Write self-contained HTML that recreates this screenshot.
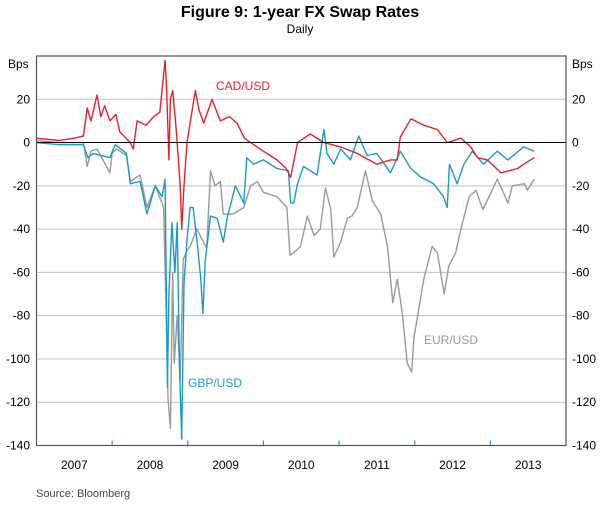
<!DOCTYPE html>
<html><head><meta charset="utf-8"><style>
body{margin:0;background:#fff;width:600px;height:503px;overflow:hidden;font-family:"Liberation Sans",Arial,sans-serif}
</style></head><body>
<svg id="c" width="600" height="503" xmlns="http://www.w3.org/2000/svg" font-family="Liberation Sans, Arial, sans-serif"></svg>
<script>
const yTicks=[20,0,-20,-40,-60,-80,-100,-120,-140];
const years=[2007,2008,2009,2010,2011,2012,2013];
const cadT=[2007.0,2007.3,2007.5,2007.62,2007.67,2007.72,2007.8,2007.85,2007.9,2007.97,2008.05,2008.1,2008.24,2008.28,2008.33,2008.45,2008.55,2008.63,2008.70,2008.72,2008.75,2008.77,2008.80,2008.85,2008.90,2008.92,2008.95,2008.99,2009.10,2009.15,2009.21,2009.32,2009.43,2009.55,2009.65,2009.75,2009.83,2010.0,2010.18,2010.30,2010.36,2010.45,2010.62,2010.80,2011.02,2011.24,2011.5,2011.68,2011.77,2011.81,2011.95,2012.12,2012.30,2012.43,2012.61,2012.74,2012.83,2012.96,2013.14,2013.36,2013.44,2013.58];
const cadV=[2,1,2,3,16,10,22,12,17,10,13,5,0,-3,10,8,12,14,38,25,-8,20,24,5,-20,-40,-20,0,24,15,9,20,10,12,9,2,0,-4,-8,-12,-16,0,4,0,-2,-5,-10,-8,-8,2.5,11,8,6,0,2,-2,-7,-8,-14,-12,-10,-7];
const gbpT=[2007.0,2007.3,2007.62,2007.68,2007.75,2007.97,2008.04,2008.19,2008.24,2008.37,2008.46,2008.57,2008.66,2008.70,2008.73,2008.75,2008.79,2008.83,2008.86,2008.89,2008.92,2008.95,2008.99,2009.03,2009.07,2009.12,2009.17,2009.20,2009.23,2009.30,2009.39,2009.47,2009.52,2009.63,2009.74,2009.78,2009.87,2010.0,2010.18,2010.33,2010.36,2010.40,2010.45,2010.53,2010.71,2010.80,2010.84,2010.93,2011.02,2011.15,2011.26,2011.37,2011.5,2011.68,2011.81,2011.95,2012.08,2012.25,2012.38,2012.43,2012.46,2012.56,2012.65,2012.76,2012.91,2013.09,2013.23,2013.44,2013.58];
const gbpV=[0,-1,-1,-7,-5,-7,-1,-5,-19,-18,-33,-20,-25,-17,-113,-70,-37,-60,-37,-104,-137,-65,-45,-30,-30,-45,-62,-79,-55,-34,-35,-46,-35,-20,-28,-7,-10,-8,-12,-13,-28,-28,-19,-11,-15,6,-5,-10,-3,-8,3,-6,-5,-14,-4,-12,-16,-19,-25,-30,-10,-19,-10,-4,-10,-4,-8,-2,-4];
const eurT=[2007.0,2007.3,2007.62,2007.67,2007.72,2007.8,2007.97,2008.0,2008.06,2008.19,2008.24,2008.37,2008.46,2008.57,2008.68,2008.71,2008.74,2008.77,2008.80,2008.82,2008.86,2008.90,2008.94,2008.99,2009.03,2009.12,2009.25,2009.30,2009.36,2009.43,2009.47,2009.60,2009.74,2009.83,2009.92,2010.0,2010.18,2010.31,2010.35,2010.40,2010.49,2010.58,2010.67,2010.75,2010.82,2010.89,2010.93,2011.02,2011.11,2011.17,2011.24,2011.35,2011.44,2011.55,2011.64,2011.71,2011.77,2011.84,2011.90,2011.96,2011.99,2012.04,2012.12,2012.23,2012.30,2012.39,2012.45,2012.54,2012.61,2012.72,2012.81,2012.90,2013.01,2013.09,2013.16,2013.23,2013.29,2013.45,2013.49,2013.58];
const eurV=[1,0,0,-11,-4,-3,-14,-5,-3,-6,-18,-15,-30,-20,-30,-72,-119,-132,-60,-102,-80,-110,-54,-50,-48,-40,-49,-13,-20,-18,-33,-33,-30,-20,-18,-23,-25,-30,-52,-51,-48,-34,-43,-40,-21,-31,-53,-46,-35,-34,-30,-13,-27,-33,-48,-74,-63,-80,-102,-106,-90,-80,-63,-48,-51,-70,-57,-51,-40,-25,-22,-31,-23,-17,-22,-28,-20,-19,-22,-17];
const L=36.5,R=566,T=56,B=445.5,y0=2007,y1=2014,vmin=-140,vmax=40;
const X=t=>L+(t-y0)/(y1-y0)*(R-L);
const Y=v=>T+(vmax-v)/(vmax-vmin)*(B-T);
const svg=document.getElementById('c');const NS='http://www.w3.org/2000/svg';
function mk(tag,attrs,parent){const e=document.createElementNS(NS,tag);for(const k in attrs)e.setAttribute(k,attrs[k]);(parent||svg).appendChild(e);return e;}
function txt(s,attrs){const e=mk('text',attrs);e.textContent=s;return e;}
let e;
e=txt('Figure 9: 1-year FX Swap Rates',{x:300,y:17,'text-anchor':'middle','font-size':16,'font-weight':'bold',fill:'#000'});


e=txt('Daily',{x:300,y:33,'text-anchor':'middle','font-size':12,fill:'#000'});


e=txt('Bps',{x:8,y:68,'font-size':12,fill:'#000'});


e=txt('Bps',{x:572,y:68,'font-size':12,fill:'#000'});


yTicks.forEach(v=>{
  if(v!==0&&v!==-140){const g=mk('line',{x1:L,x2:R,y1:Y(v),y2:Y(v),stroke:'#c0c0c0','stroke-width':1});
  
  }
  const a=txt(String(v),{x:30,y:Y(v)+4,'text-anchor':'end','font-size':12,fill:'#000'});
  
  
  const b=txt(String(v),{x:572,y:Y(v)+4,'font-size':12,fill:'#000'});
  
  
});
years.forEach(yr=>{
  const a=txt(String(yr),{x:X(yr+0.5),y:469,'text-anchor':'middle','font-size':12,fill:'#000'});
  
  
  if(yr>y0){const t=mk('line',{x1:X(yr),x2:X(yr),y1:B-5,y2:B,stroke:'#1a9ac9','stroke-width':1.2});
  
  }
});
function series(T_,V_,col,name){const d=T_.map((t,i)=>(i?'L':'M')+X(t).toFixed(1)+' '+Y(V_[i]).toFixed(1)).join(' ');
  const p=mk('path',{d:d,fill:'none',stroke:col,'stroke-width':1.4,'stroke-linejoin':'round'});
  
  }
series(eurT,eurV,'#9a9a9a','eur-usd-line');
series(gbpT,gbpV,'#1a9ac9','gbp-usd-line');
series(cadT,cadV,'#e8202a','cad-usd-line');
e=mk('line',{x1:L,x2:R,y1:Y(0),y2:Y(0),stroke:'#000','stroke-width':1});


e=mk('rect',{x:L,y:T,width:R-L,height:B-T,fill:'none',stroke:'#555','stroke-width':1.2});


e=txt('CAD/USD',{x:216,y:90,'font-size':12,fill:'#e8202a'});


e=txt('GBP/USD',{x:188,y:387,'font-size':12,fill:'#1a9ac9'});


e=txt('EUR/USD',{x:424,y:344,'font-size':12,fill:'#999'});


e=txt('Source:   Bloomberg',{x:36,y:497,'font-size':11,fill:'#444'});


</script>
</body></html>
